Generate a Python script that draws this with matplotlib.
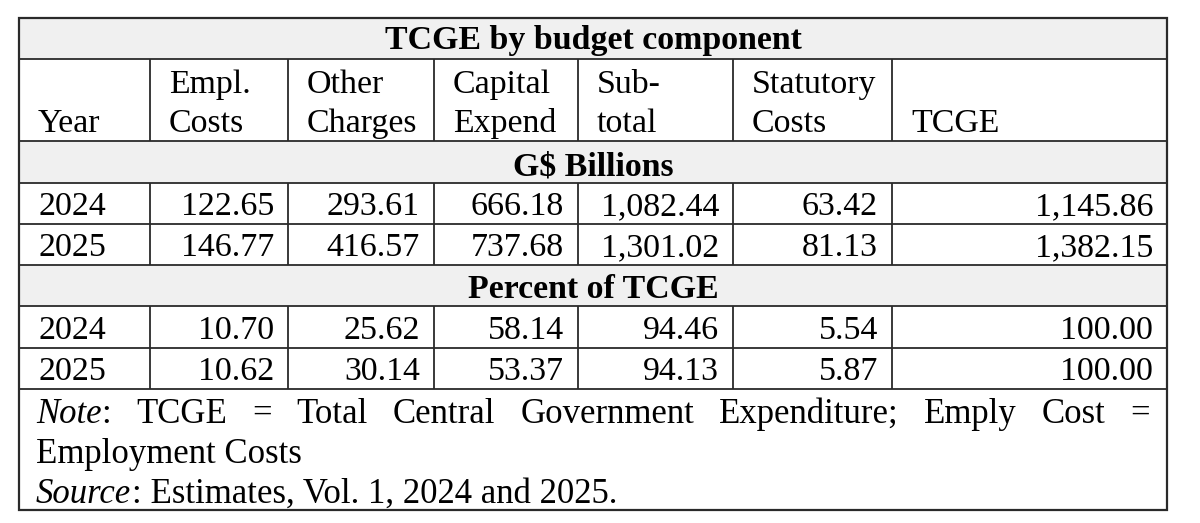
import matplotlib
matplotlib.use("Agg")
import matplotlib.pyplot as plt
from matplotlib.patches import Rectangle

# -------------------------------------------------------
# table data
# -------------------------------------------------------
title = "TCGE by budget component"
headers = [("", "Year"), ("Empl.", "Costs"), ("Other", "Charges"),
           ("Capital", "Expend"), ("Sub-", "total"), ("Statutory", "Costs"),
           ("", "TCGE")]
years = ["2024", "2025"]

# G$ Billions
empl_bn = [122.65, 146.77]
other_bn = [293.61, 416.57]
capital_bn = [666.18, 737.68]
subtotal_bn = [1082.44, 1301.02]
statutory_bn = [63.42, 81.13]
tcge_bn = [1145.86, 1382.15]

# Percent of TCGE
empl_pct = [10.70, 10.62]
other_pct = [25.62, 30.14]
capital_pct = [58.14, 53.37]
subtotal_pct = [94.46, 94.13]
statutory_pct = [5.54, 5.87]
tcge_pct = [100.00, 100.00]

sections = [
    ("G$ Billions", [empl_bn, other_bn, capital_bn, subtotal_bn, statutory_bn, tcge_bn]),
    ("Percent of TCGE", [empl_pct, other_pct, capital_pct, subtotal_pct, statutory_pct, tcge_pct]),
]

# first note line is justified: (word, style, glued to previous word)
note_line1 = [("Note", "italic", False), (":", "normal", True), ("TCGE", "normal", False),
              ("=", "normal", False), ("Total", "normal", False), ("Central", "normal", False),
              ("Government", "normal", False), ("Expenditure;", "normal", False),
              ("Emply", "normal", False), ("Cost", "normal", False), ("=", "normal", False)]
note_line2 = "Employment Costs"
source_lbl = "Source"
source_txt = ": Estimates, Vol. 1, 2024 and 2025."

# -------------------------------------------------------
# layout (pixel grid)
# -------------------------------------------------------
col_x = [19, 150, 288, 434, 578, 733, 892, 1167]
row_y = [18, 59, 141, 183, 224, 265, 306, 348, 389, 510]
gray = "#f0f0f0"
lc = "#2a2a2a"
fs = 24.4
fs_note = 25
pad_l, pad_r = 19, 14
base_off = 9   # baseline distance above a row's bottom line

plt.rcParams["font.family"] = ["Liberation Serif", "DejaVu Serif"]

fig = plt.figure(figsize=(12, 5.23), dpi=100)
ax = fig.add_axes([0, 0, 1, 1])
ax.set_xlim(0, 1200)
ax.set_ylim(523, 0)
ax.axis("off")

L, R = col_x[0], col_x[-1]
mid = (L + R) / 2


def band(y0, y1, fill):
    ax.add_patch(Rectangle((L, y0), R - L, y1 - y0, facecolor=fill, edgecolor="none"))


def hline(y):
    ax.plot([L, R], [y, y], color=lc, lw=1.3, solid_capstyle="butt")


def vlines(y0, y1):
    for x in col_x[1:-1]:
        ax.plot([x, x], [y0, y1], color=lc, lw=1.3, solid_capstyle="butt")


def txt(x, y, s, size=fs, **kw):
    return ax.text(x, y, s, va="baseline", fontsize=size, **kw)


# title row
band(row_y[0], row_y[1], gray)
txt(mid, row_y[1] - 10, title, ha="center", fontweight="bold")

# header row
vlines(row_y[1], row_y[2])
for i, (l1, l2) in enumerate(headers):
    x = col_x[i] + pad_l
    if l1:
        txt(x, 93, l1, ha="left")
    txt(x, 132, l2, ha="left")

# sections
for s, (label, cols) in enumerate(sections):
    y0 = row_y[2 + 3 * s]
    y1 = row_y[3 + 3 * s]
    band(y0, y1, gray)
    txt(mid, y1 - 8, label, ha="center", fontweight="bold")
    vlines(y1, row_y[5 + 3 * s])
    for r, yr in enumerate(years):
        yb = row_y[4 + 3 * s + r] - base_off
        txt(col_x[0] + pad_l, yb, yr, ha="left")
        for c, vals in enumerate(cols):
            txt(col_x[c + 2] - pad_r, yb, f"{vals[r]:,.2f}", ha="right")

for y in row_y[1:-1]:
    hline(y)
ax.add_patch(Rectangle((L, row_y[0]), R - L, row_y[-1] - row_y[0],
                       facecolor="none", edgecolor=lc, lw=1.6))

# note block
fig.canvas.draw()
rend = fig.canvas.get_renderer()
x_start, x_end = L + 17, R - 17

objs = [txt(0, 423, w, size=fs_note, ha="left", style=st) for w, st, _ in note_line1]
widths = [t.get_window_extent(rend).width for t in objs]
n_gaps = sum(1 for _, _, g in note_line1[1:] if not g)
gap = (x_end - x_start - sum(widths)) / n_gaps
x = x_start
for k, (t, w, (_, _, glued)) in enumerate(zip(objs, widths, note_line1)):
    if k > 0 and not glued:
        x += gap
    t.set_x(x)
    x += w

txt(x_start, 463, note_line2, size=fs_note, ha="left")
st = txt(x_start, 503, source_lbl, size=fs_note, ha="left", style="italic")
sw = st.get_window_extent(rend).width
txt(x_start + sw + 1, 503, source_txt, size=fs_note, ha="left")

fig.savefig("out.png", dpi=100, facecolor="white")
